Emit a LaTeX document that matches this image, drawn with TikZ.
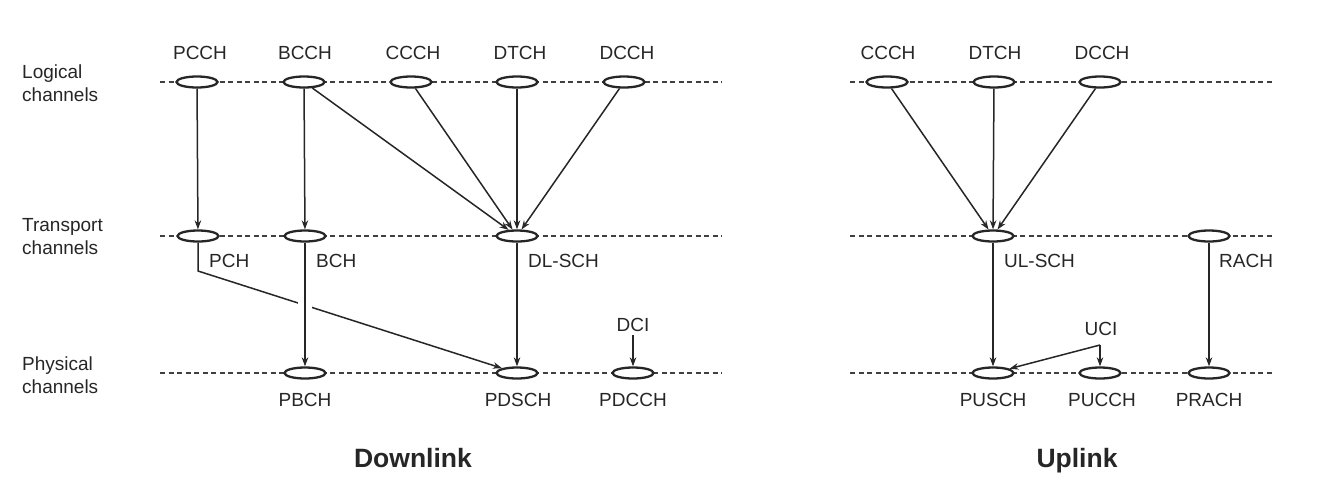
\documentclass[tikz,border=0pt]{standalone}
\usepackage{fontspec}
\setmainfont{Liberation Sans}
\usetikzlibrary{shapes.geometric,arrows.meta}

\begin{document}
\begin{tikzpicture}[x=1pt,y=-1pt,>={Stealth[length=9pt,width=6.5pt]},
	chan/.style={draw=black!85,ellipse,line width=2.3pt,fill=white,minimum width=41pt,minimum height=11pt,inner sep=0pt},
	row/.style={draw=black!75,dash pattern=on 5pt off 3.5pt,line width=1.1pt},
	lbl/.style={inner sep=0pt,text=black!85,font=\fontsize{19}{23}\selectfont},
	side/.style={lbl,align=left,anchor=north west},
	title/.style={inner sep=0pt,anchor=base,text=black!85,font=\fontsize{26.5}{30}\selectfont\bfseries},
	link/.style={->,draw=black!85,line width=1.5pt},
	gap/.style={draw=white,line width=14pt,shorten <=55pt,shorten >=55pt}]
	
	\useasboundingbox (0,0) rectangle (1326,496);
	
	% szaggatott vonalak
	\foreach \y in {82,236,373} {
		\draw[row] (160,\y) -- (722,\y);
		\draw[row] (850,\y) -- (1272,\y);
	}
	
	% sorok nevei
	\node[side] (logical) at (22,65) {Logical\\channels};
	\node[side] (transport) at (22,218) {Transport\\channels};
	\node[side] (physical) at (22,357) {Physical\\channels};
	
	% downlink logikai csatornak
	\node[chan] (pcch) at (197,82) {};
	\node[chan] (bcch) at (304,82) {};
	\node[chan] (ccch) at (411,82) {};
	\node[chan] (dtch) at (517,82) {};
	\node[chan] (dcch) at (624,82) {};
	\node[lbl] (t-pcch) at (200,53) {PCCH};
	\node[lbl] (t-bcch) at (305,53) {BCCH};
	\node[lbl] (t-ccch) at (413,53) {CCCH};
	\node[lbl] (t-dtch) at (520,53) {DTCH};
	\node[lbl] (t-dcch) at (627,53) {DCCH};
	
	% downlink transport csatornak
	\node[chan] (pch) at (198,236) {};
	\node[chan] (bch) at (305,236) {};
	\node[chan] (dlsch) at (517,236) {};
	\node[lbl,anchor=west] (t-pch) at (209,261) {PCH};
	\node[lbl,anchor=west] (t-bch) at (316,261) {BCH};
	\node[lbl,anchor=west] (t-dlsch) at (528,261) {DL-SCH};
	
	% downlink fizikai csatornak
	\node[chan] (pbch) at (305,373) {};
	\node[chan] (pdsch) at (517,373) {};
	\node[chan] (pdcch) at (633,373) {};
	\node[lbl] (t-pbch) at (305,400) {PBCH};
	\node[lbl] (t-pdsch) at (518,400) {PDSCH};
	\node[lbl] (t-pdcch) at (633,400) {PDCCH};
	\node[lbl] (dci) at (633,325) {DCI};
	
	% uplink csatornak
	\node[chan] (ccchu) at (887,82) {};
	\node[chan] (dtchu) at (994,82) {};
	\node[chan] (dcchu) at (1100,82) {};
	\node[lbl] (t-ccchu) at (888,53) {CCCH};
	\node[lbl] (t-dtchu) at (995,53) {DTCH};
	\node[lbl] (t-dcchu) at (1102,53) {DCCH};
	
	\node[chan] (ulsch) at (993,236) {};
	\node[chan] (rach) at (1209,236) {};
	\node[lbl,anchor=west] (t-ulsch) at (1004,261) {UL-SCH};
	\node[lbl,anchor=west] (t-rach) at (1219,261) {RACH};
	
	\node[chan] (pusch) at (993,373) {};
	\node[chan] (pucch) at (1100,373) {};
	\node[chan] (prach) at (1209,373) {};
	\node[lbl] (t-pusch) at (993,400) {PUSCH};
	\node[lbl] (t-pucch) at (1102,400) {PUCCH};
	\node[lbl] (t-prach) at (1209,400) {PRACH};
	\node[lbl] (uci) at (1101,329) {UCI};
	
	% cimek
	\node[title] (downlink) at (413,467) {Downlink};
	\node[title] (uplink) at (1077,467) {Uplink};
	
	% downlink nyilak
	\draw[link] (pcch) -- (pch);
	\draw[link] (bcch) -- (dlsch);
	\draw[link] (ccch) -- (dlsch);
	\draw[link] (dtch) -- (dlsch);
	\draw[link] (dcch) -- (dlsch);
	\coordinate (pch-bend) at (198,271);
	\draw[link] (pch) -- (pch-bend) -- (pdsch);
	\draw[gap] (bch) -- (pbch);
	\draw[link] (bcch) -- (bch);
	\draw[link] (bch) -- (pbch);
	\draw[link] (dlsch) -- (pdsch);
	\draw[link,shorten <=3pt] (dci) -- (pdcch);
	
	% uplink nyilak
	\draw[link] (ccchu) -- (ulsch);
	\draw[link] (dtchu) -- (ulsch);
	\draw[link] (dcchu) -- (ulsch);
	\draw[link] (ulsch) -- (pusch);
	\draw[link] (rach) -- (prach);
	\coordinate (uci-bend) at (1100,345);
	\draw[link] (uci-bend) -- (pusch);
	\draw[link] (uci-bend) -- (pucch);
\end{tikzpicture}
\end{document}
